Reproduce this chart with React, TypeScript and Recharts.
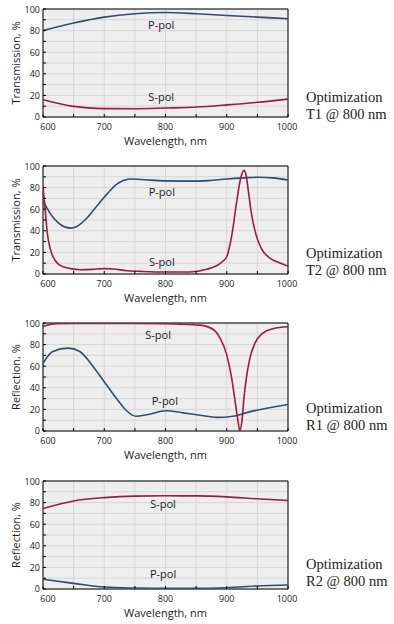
import React from 'react';
import { LineChart, Line, XAxis, YAxis, CartesianGrid, ReferenceArea, ReferenceDot } from 'recharts';

// ---- Data (wavelength in nm, value in %) ----
const X_TICKS = [600, 650, 700, 750, 800, 850, 900, 950, 1000];
const Y_TICKS = [0, 10, 20, 30, 40, 50, 60, 70, 80, 90, 100];

// T1 @ 800 nm (transmission)
const T1_WL = [600, 650, 700, 750, 800, 850, 900, 950, 1000];
const T1_P = [80, 87, 92.5, 95.6, 96.7, 95.6, 94, 92.5, 91];
const T1_S = [16, 9.8, 7.8, 7.6, 8.3, 9.2, 11.2, 13.6, 16.6];

// T2 @ 800 nm (transmission)
const T2_P_WL = [600, 606, 617, 628, 645, 655, 671, 688, 704, 720, 731, 742, 760, 800, 840, 870, 900, 928, 951, 975, 1000];
const T2_P = [68.5, 61.5, 52, 46, 42.5, 44, 51.4, 63, 73.7, 83, 86.5, 88, 87.5, 86.2, 86, 86.5, 88, 89, 89.6, 89, 87];
const T2_S_WL = [600, 604, 607, 612, 620, 628, 645, 661, 680, 700, 715, 737, 760, 800, 840, 867, 889, 894, 900, 908, 916, 921, 925, 928, 931, 935, 940, 948, 957, 970, 986, 1000];
const T2_S = [81, 57, 38, 23, 12.5, 8, 5, 4, 4.3, 5, 4.6, 3, 2.4, 1.8, 1.8, 4.3, 9.5, 12, 16, 35, 66, 84, 93, 96, 93, 78, 57, 36, 23, 15, 10.4, 7.3];

// R1 @ 800 nm (reflection)
const R1_P_WL = [600, 616, 641, 660, 682, 700, 720, 736, 752, 769, 801, 829, 856, 884, 910, 937, 963, 1000];
const R1_P = [62.7, 73.6, 76.7, 73.6, 59.6, 45.6, 30, 19, 13.7, 15, 18.8, 16.8, 14.6, 12.6, 13.7, 17.7, 20.8, 24.5];
const R1_S_WL = [600, 620, 650, 700, 750, 800, 824, 856, 878, 889, 900, 908, 913, 918.6, 921, 924.6, 928, 932, 937.6, 945.8, 959, 975.6, 1000];
const R1_S = [96.8, 99.3, 99.6, 99.6, 99.5, 99.3, 99, 98, 94, 86, 70.5, 49, 30, 8.4, 0.5, 8.4, 30, 49, 67, 81, 90.7, 94.7, 96.5];

// R2 @ 800 nm (reflection)
const R2_WL = [600, 650, 700, 750, 800, 850, 900, 950, 1000];
const R2_S = [74.5, 81.5, 84.6, 86, 86.3, 86.2, 85.3, 83.5, 82];
const R2_P = [9, 5.2, 1.8, 0.9, 0.6, 0.6, 1.2, 2.8, 3.7];

const zip = (wl: number[], v: number[]) => wl.map((nm, i) => ({ nm, v: v[i] }));

const BLUE = '#2f4d6e';
const RED = '#9a1c3f';
const SANS = '"Open Sans", "DejaVu Sans", sans-serif';
const SERIF = '"Liberation Serif", "DejaVu Serif", serif';

const XTick = (props: any) => {
  const { x, y, payload } = props;
  const v = payload.value;
  const dx = v === 600 ? 5 : v === 1000 ? -1 : 0;
  return (
    <g>
      <line x1={x} x2={x} y1={y} y2={y - 3} stroke="#000" strokeWidth={1} />
      {v % 100 === 0 && (
        <text x={x + dx} y={y + 9} textAnchor="middle" dominantBaseline="central" fontSize={9} fill="#1a1a1a" fontFamily={SANS}>
          {v}
        </text>
      )}
    </g>
  );
};

const YTick = (props: any) => {
  const { x, y, payload } = props;
  const v = payload.value;
  return (
    <g>
      <line x1={x} x2={x + 3} y1={y} y2={y} stroke="#000" strokeWidth={1} />
      {v % 20 === 0 && (
        <text x={x - 3} y={v === 0 ? y - 1 : y} textAnchor="end" dominantBaseline="central" fontSize={9} fill="#1a1a1a" fontFamily={SANS}>
          {v}
        </text>
      )}
    </g>
  );
};

type PanelProps = {
  top: number;
  yTitle: string;
  pData: { nm: number; v: number }[];
  sData: { nm: number; v: number }[];
  pLabel: [number, number];
  sLabel: [number, number];
};

function Panel({ top, yTitle, pData, sData, pLabel, sLabel }: PanelProps) {
  return (
    <div style={{ position: 'absolute', left: 0, top }}>
      <LineChart width={300} height={157} margin={{ top: 9, right: 12, bottom: 0, left: 0 }}>
        <CartesianGrid fill="#eeeeee" stroke="#d6d6d6" strokeWidth={1} />
        <XAxis
          type="number"
          dataKey="nm"
          domain={[600, 1000]}
          ticks={X_TICKS}
          interval={0}
          tick={(p: any) => <XTick {...p} />}
          tickLine={false}
          axisLine={false}
          tickSize={0}
          tickMargin={0}
          height={40}
          allowDataOverflow
          label={{ value: 'Wavelength, nm', position: 'insideBottom', offset: 12.5, fontSize: 11, fill: '#1a1a1a', fontFamily: SANS }}
        />
        <YAxis
          type="number"
          domain={[0, 100]}
          ticks={Y_TICKS}
          interval={0}
          tick={(p: any) => <YTick {...p} />}
          tickLine={false}
          axisLine={false}
          tickSize={0}
          tickMargin={0}
          width={43}
          allowDataOverflow
          label={{
            value: yTitle,
            angle: -90,
            position: 'insideLeft',
            offset: 16,
            fontSize: 11,
            fill: '#1a1a1a',
            fontFamily: SANS,
            style: { textAnchor: 'middle' },
          }}
        />
        <ReferenceArea x1={600} x2={1000} y1={0} y2={100} fill="none" stroke="#000" strokeWidth={1} ifOverflow="visible" />
        <Line data={pData} dataKey="v" type="monotone" stroke={BLUE} strokeWidth={1.6} dot={false} isAnimationActive={false} />
        <Line data={sData} dataKey="v" type="monotone" stroke={RED} strokeWidth={1.6} dot={false} isAnimationActive={false} />
        <ReferenceDot x={pLabel[0]} y={pLabel[1]} r={0} fill="none" stroke="none"
          label={{ value: 'P-pol', position: 'center', fontSize: 11, fill: '#1a1a1a', fontFamily: SANS }} />
        <ReferenceDot x={sLabel[0]} y={sLabel[1]} r={0} fill="none" stroke="none"
          label={{ value: 'S-pol', position: 'center', fontSize: 11, fill: '#1a1a1a', fontFamily: SANS }} />
      </LineChart>
    </div>
  );
}

function Note({ top, lines }: { top: number; lines: string[] }) {
  return (
    <div
      style={{
        position: 'absolute',
        left: 306,
        top,
        fontFamily: SERIF,
        fontSize: 14.5,
        lineHeight: '17px',
        color: '#222',
        whiteSpace: 'nowrap',
      }}
    >
      {lines.map((l) => (
        <div key={l}>{l}</div>
      ))}
    </div>
  );
}

export default function App() {
  return (
    <div style={{ position: 'absolute', left: 0, top: 0, width: 394, height: 624, background: '#fff', fontFamily: SANS }}>
      <Panel top={0} yTitle="Transmission, %" pData={zip(T1_WL, T1_P)} sData={zip(T1_WL, T1_S)} pLabel={[793, 85.5]} sLabel={[793, 18]} />
      <Panel top={157} yTitle="Transmission, %" pData={zip(T2_P_WL, T2_P)} sData={zip(T2_S_WL, T2_S)} pLabel={[794, 76]} sLabel={[794, 10.7]} />
      <Panel top={314} yTitle="Reflection, %" pData={zip(R1_P_WL, R1_P)} sData={zip(R1_S_WL, R1_S)} pLabel={[799, 28]} sLabel={[788, 89]} />
      <Panel top={472} yTitle="Reflection, %" pData={zip(R2_WL, R2_P)} sData={zip(R2_WL, R2_S)} pLabel={[796, 13.6]} sLabel={[796, 78.5]} />
      <Note top={89} lines={['Optimization', 'T1 @ 800 nm']} />
      <Note top={244.5} lines={['Optimization', 'T2 @ 800 nm']} />
      <Note top={400} lines={['Optimization', 'R1 @ 800 nm']} />
      <Note top={555.5} lines={['Optimization', 'R2 @ 800 nm']} />
    </div>
  );
}
